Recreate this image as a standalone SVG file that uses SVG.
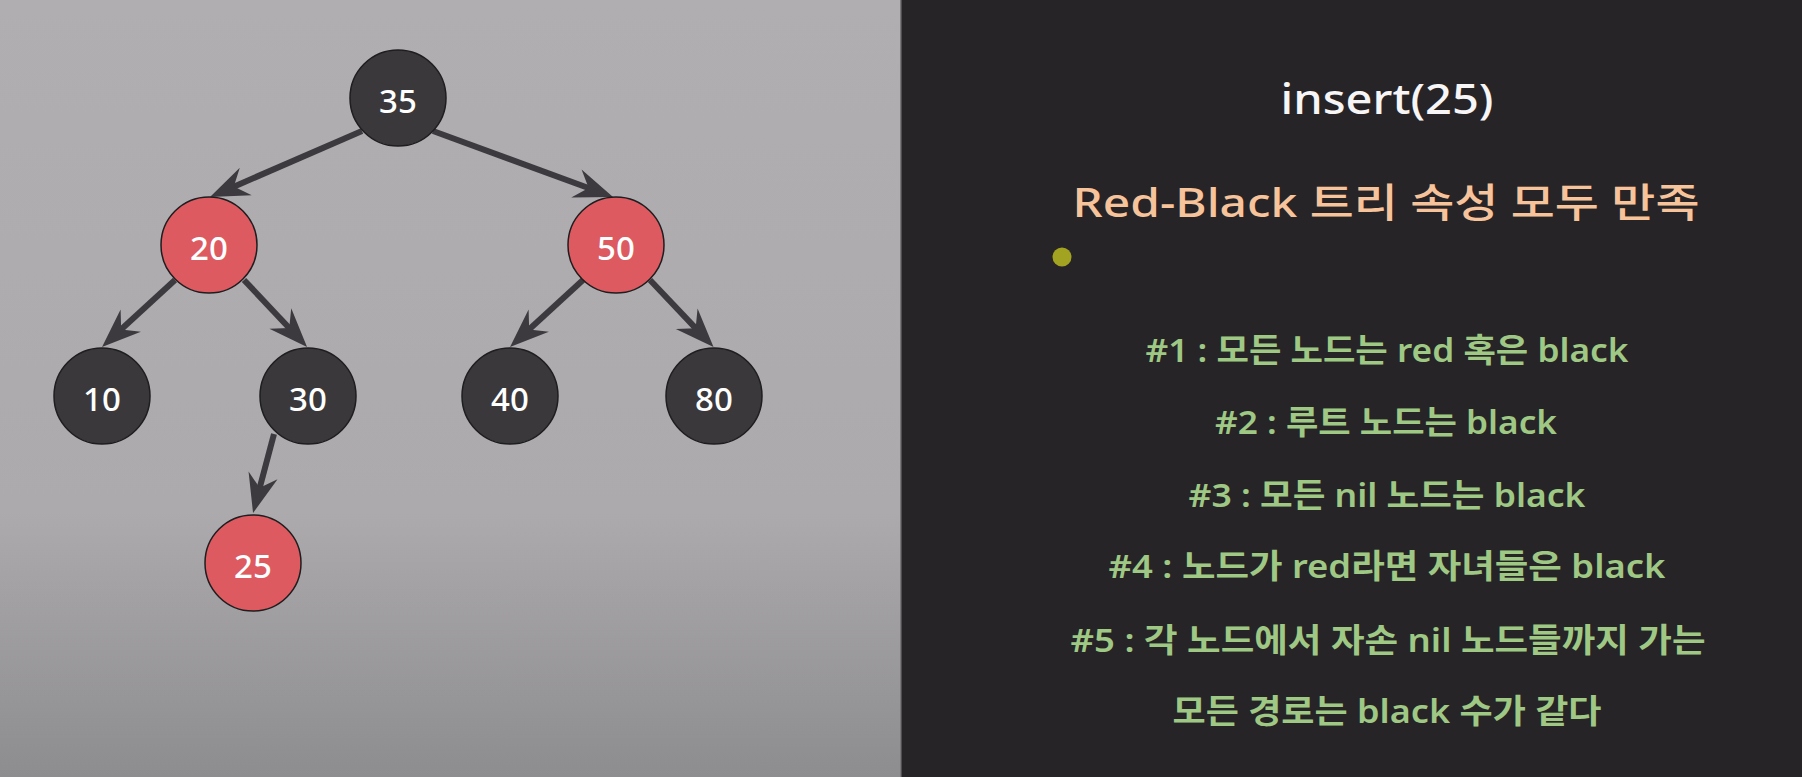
<svg xmlns="http://www.w3.org/2000/svg" width="1802" height="777" viewBox="0 0 1802 777">
  <defs>
    <linearGradient id="bgLeft" x1="0" y1="0" x2="0" y2="1">
      <stop offset="0" stop-color="#b0aeb1"/>
      <stop offset="0.66" stop-color="#acaaad"/>
      <stop offset="1" stop-color="#8d8c8f"/>
    </linearGradient>
    <marker id="arrow" markerUnits="userSpaceOnUse" viewBox="-42 -17 44 34" markerWidth="44" markerHeight="34" refX="-24" refY="0" orient="auto">
      <path d="M0,0 L-39,-15 L-26,0 L-39,15 Z" fill="#3c3a3e"/>
    </marker>
    <style>
      .edge { stroke: #3c3a3e; stroke-width: 6; fill: none; marker-end: url(#arrow); }
      .blk { fill: #3a383b; stroke: #1e1d1f; stroke-width: 1.5; }
      .red { fill: #dd5a60; stroke: #1e1d1f; stroke-width: 1.5; }
      .lbl { font-family: "Noto Sans", "Open Sans", sans-serif; font-size: 33px; font-weight: 500; fill: #ffffff; text-anchor: middle; }
      .title { font-family: "Noto Sans", "Noto Sans CJK KR", sans-serif; font-size: 42px; font-weight: 500; fill: #f7f5f6; text-anchor: middle; }
      .sub { font-family: "Noto Sans", "Noto Sans CJK KR", sans-serif; font-size: 40px; font-weight: 500; fill: #f6c39b; text-anchor: middle; }
      .rule { font-family: "Noto Sans", "Noto Sans CJK KR", sans-serif; font-size: 33px; font-weight: 600; fill: #9ec884; text-anchor: middle; }
    </style>
  </defs>

  <!-- backgrounds -->
  <rect x="0" y="0" width="900" height="777" fill="url(#bgLeft)"/>
  <rect x="900" y="0" width="902" height="777" fill="#262427"/>
  <rect x="900" y="0" width="1.5" height="777" fill="#7a787c"/>

  <!-- connectors -->
  <g id="connectors">
    <line class="edge" x1="362" y1="131" x2="232" y2="187.4"/>
    <line class="edge" x1="433" y1="131" x2="590.5" y2="188.7"/>
    <line class="edge" x1="175" y1="280" x2="119.7" y2="330.8"/>
    <line class="edge" x1="244" y1="280" x2="290.6" y2="329.5"/>
    <line class="edge" x1="583" y1="280" x2="527.7" y2="330.8"/>
    <line class="edge" x1="650" y1="280" x2="697" y2="329.6"/>
    <line class="edge" x1="274" y1="434" x2="259.2" y2="489.8"/>
  </g>

  <!-- nodes -->
  <g id="node-35"><circle class="blk" cx="398" cy="98" r="48"/><text class="lbl" x="398" y="113">35</text></g>
  <g id="node-20"><circle class="red" cx="209" cy="245" r="48"/><text class="lbl" x="209" y="260">20</text></g>
  <g id="node-50"><circle class="red" cx="616" cy="245" r="48"/><text class="lbl" x="616" y="260">50</text></g>
  <g id="node-10"><circle class="blk" cx="102" cy="396" r="48"/><text class="lbl" x="102" y="411">10</text></g>
  <g id="node-30"><circle class="blk" cx="308" cy="396" r="48"/><text class="lbl" x="308" y="411">30</text></g>
  <g id="node-40"><circle class="blk" cx="510" cy="396" r="48"/><text class="lbl" x="510" y="411">40</text></g>
  <g id="node-80"><circle class="blk" cx="714" cy="396" r="48"/><text class="lbl" x="714" y="411">80</text></g>
  <g id="node-25"><circle class="red" cx="253" cy="563" r="48"/><text class="lbl" x="253" y="578">25</text></g>

  <!-- right panel -->
  <g id="panel-text">
    <text class="title" x="1387" y="114" textLength="213" lengthAdjust="spacingAndGlyphs">insert(25)</text>
    <text class="sub" x="1386" y="217" textLength="627" lengthAdjust="spacingAndGlyphs">Red-Black 트리 속성 모두 만족</text>
    <circle cx="1062" cy="257" r="9.5" fill="#a3a322"/>
    <text class="rule" x="1387" y="362" textLength="483" lengthAdjust="spacingAndGlyphs">#1 : 모든 노드는 red 혹은 black</text>
    <text class="rule" x="1386" y="434" textLength="342" lengthAdjust="spacingAndGlyphs">#2 : 루트 노드는 black</text>
    <text class="rule" x="1387" y="507" textLength="397" lengthAdjust="spacingAndGlyphs">#3 : 모든 nil 노드는 black</text>
    <text class="rule" x="1387" y="578" textLength="557" lengthAdjust="spacingAndGlyphs">#4 : 노드가 red라면 자녀들은 black</text>
    <text class="rule" x="1388" y="652" textLength="635" lengthAdjust="spacingAndGlyphs">#5 : 각 노드에서 자손 nil 노드들까지 가는</text>
    <text class="rule" x="1387" y="723" textLength="429" lengthAdjust="spacingAndGlyphs">모든 경로는 black 수가 같다</text>
  </g>
</svg>
